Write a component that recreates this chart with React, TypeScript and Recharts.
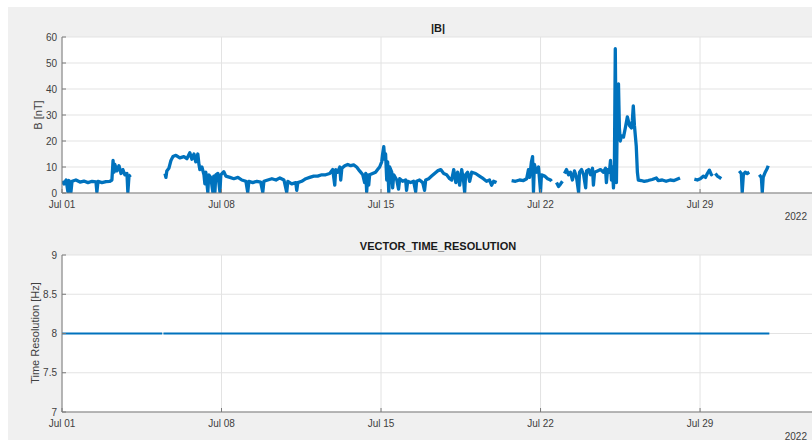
import { CartesianGrid, Line, LineChart, XAxis, YAxis } from "recharts"

// days since Jul 01 2022
const dayTicks = [0, 7, 14, 21, 28]
const dayLabels = ["Jul 01", "Jul 08", "Jul 15", "Jul 22", "Jul 29"]
const fieldTicks = [0, 10, 20, 30, 40, 50, 60]
const resTicks = [7, 7.5, 8, 8.5, 9]

// [day, |B| nT], null = data gap
const fieldSamples: Array<[number, number | null]> = [
  [0.0, 4.5], [0.09, 3.5], [0.18, 5], [0.26, 0.5], [0.31, 4.8], [0.39, 0.3], [0.44, 4.5], [0.61, 5],
  [0.79, 4.2], [0.96, 4.6], [1.14, 4], [1.32, 4.5], [1.49, 4.3], [1.53, 0.4], [1.58, 4.5], [1.75, 4],
  [1.93, 4.4], [2.1, 4.5], [2.19, 5], [2.24, 12.5], [2.28, 8], [2.32, 11], [2.41, 8.5], [2.5, 10.5],
  [2.59, 7.5], [2.67, 9], [2.76, 7], [2.85, 7.5], [2.89, 0.3], [2.94, 6.5], [3.02, 7],
  [3.5, null],
  [4.52, 7.5], [4.56, 6], [4.6, 8.5], [4.69, 9.5], [4.78, 12.5], [4.87, 14], [5.0, 14.5], [5.17, 13.5],
  [5.35, 14], [5.48, 13.2], [5.61, 15.5], [5.7, 13], [5.79, 15], [5.87, 12], [5.96, 15], [6.01, 11],
  [6.05, 9], [6.14, 10], [6.23, 7], [6.27, 3.5], [6.31, 8], [6.4, 0.2], [6.44, 7], [6.53, 6],
  [6.62, 0.3], [6.66, 6.5], [6.71, 0.3], [6.75, 7], [6.84, 7.5], [6.93, 0.5], [6.97, 7], [7.1, 8.2],
  [7.19, 6.5], [7.37, 6], [7.54, 5.5], [7.72, 6], [7.89, 5], [8.07, 4.5], [8.15, 0.3], [8.2, 4.5],
  [8.37, 4], [8.55, 4.5], [8.72, 4.2], [8.81, 0.3], [8.86, 4.5], [9.03, 5], [9.21, 5.5], [9.39, 5],
  [9.56, 5.8], [9.74, 5], [9.86, 0.3], [9.91, 4.5], [10.08, 3.5], [10.26, 4], [10.3, 1], [10.35, 4],
  [10.52, 4.5], [10.7, 5.5], [10.87, 6], [11.05, 6.5], [11.22, 6.5], [11.4, 7], [11.57, 7], [11.75, 7.5],
  [11.88, 9], [11.97, 3], [12.01, 9], [12.1, 8], [12.19, 10], [12.23, 5], [12.28, 9.5], [12.41, 10.5],
  [12.54, 11], [12.67, 10.5], [12.8, 10.8], [12.93, 10], [13.06, 8.5], [13.2, 7], [13.28, 4], [13.33, 7.5],
  [13.37, 0.5], [13.42, 7], [13.46, 3], [13.5, 7], [13.63, 7.5], [13.76, 8], [13.85, 9], [13.94, 10],
  [14.03, 12], [14.07, 15], [14.12, 17.8], [14.16, 13], [14.2, 15], [14.25, 5], [14.29, 12], [14.34, 0.3],
  [14.38, 10], [14.47, 8], [14.51, 2], [14.56, 7], [14.69, 5], [14.77, 1.5], [14.82, 5.5], [14.95, 4.5],
  [15.08, 5], [15.12, 1], [15.17, 4.5], [15.3, 4], [15.43, 4.5], [15.52, 0.5], [15.56, 4.5], [15.69, 5],
  [15.83, 4], [15.91, 1], [15.96, 5], [16.09, 5.5], [16.22, 6.5], [16.35, 7.5], [16.48, 8.5], [16.62, 9],
  [16.75, 7.5], [16.88, 7], [17.01, 5.5], [17.1, 5], [17.19, 9], [17.28, 4], [17.36, 8], [17.45, 3],
  [17.54, 9], [17.63, 4], [17.67, 0.3], [17.71, 7], [17.8, 8], [17.89, 4.5], [17.98, 8], [18.15, 7.5],
  [18.32, 6.5], [18.49, 5.5], [18.63, 4.5], [18.76, 5], [18.85, 3], [18.94, 4.5], [19.07, 4],
  [19.3, null],
  [19.73, 4.8], [19.9, 4.5], [20.08, 5], [20.25, 4.8], [20.39, 5.5], [20.47, 9], [20.52, 6], [20.6, 12],
  [20.65, 14], [20.69, 0.5], [20.73, 11], [20.82, 8], [20.91, 10], [21.0, 0.5], [21.04, 7], [21.18, 6.5],
  [21.31, 5.5], [21.44, 5], [21.48, 4.5],
  [21.55, null],
  [21.7, 4], [21.79, 2.5], [21.88, 3.5], [21.96, 4.5],
  [22.0, null],
  [22.05, 7.5], [22.14, 9], [22.23, 7], [22.31, 8], [22.4, 5], [22.49, 8.5], [22.58, 6], [22.67, 0.3],
  [22.71, 8], [22.8, 9], [22.89, 7], [22.98, 2], [23.02, 8.5], [23.11, 9], [23.19, 7], [23.28, 9.5],
  [23.32, 3], [23.37, 8], [23.5, 8.5], [23.63, 9], [23.76, 8], [23.85, 9.5], [23.89, 4], [23.94, 9],
  [24.02, 8], [24.07, 12.5], [24.11, 5], [24.15, 10], [24.2, 2], [24.24, 9], [24.28, 55.5], [24.33, 4],
  [24.37, 30], [24.42, 42], [24.46, 25], [24.5, 20], [24.55, 22], [24.64, 21.5], [24.72, 25], [24.81, 29.3],
  [24.9, 26], [24.99, 25], [25.03, 28], [25.07, 33.5], [25.12, 26], [25.16, 22], [25.2, 18], [25.25, 8],
  [25.29, 5], [25.42, 4.8], [25.55, 4.5], [25.72, 4.8], [25.9, 5.2], [26.08, 5.8], [26.16, 4.8], [26.34, 5],
  [26.51, 4.5], [26.69, 5], [26.86, 4.8], [27.04, 5.5], [27.12, 5.8],
  [27.3, null],
  [27.75, 5.3], [27.88, 5], [28.01, 5.5], [28.15, 6.5], [28.24, 6], [28.32, 7.5], [28.41, 8.8], [28.5, 7],
  [28.54, 7.5],
  [28.6, null],
  [28.67, 7.5], [28.76, 6.5], [28.85, 6], [28.93, 5.5],
  [29.2, null],
  [29.72, 8.5], [29.81, 7.5], [29.85, 0.3], [29.9, 7], [29.98, 8], [30.07, 7.5], [30.16, 8],
  [30.4, null],
  [30.6, 7], [30.69, 6], [30.73, 0.3], [30.77, 6], [30.86, 8], [30.95, 9.5], [30.99, 10.5],
]

// [day, time resolution Hz]
const resSamples: Array<[number, number | null]> = [
  [0, 8], [4.4, 8], [4.42, null], [4.45, 8], [31.04, 8],
]

const font = "'Liberation Sans', Arial, Helvetica, sans-serif"
const axisColor = "#7a7a7a"
const tickStyle = { fill: "#404040", fontSize: 10, fontFamily: font }

function dayLabel(value: number) {
  const i = dayTicks.indexOf(value)
  return i >= 0 ? dayLabels[i] : ""
}

type PanelProps = {
  top: number
  height: number
  data: Array<{ day: number; value: number | null }>
  yTicks: number[]
  yDomain: [number, number]
  strokeWidth: number
}

function Panel({ top, height, data, yTicks, yDomain, strokeWidth }: PanelProps) {
  return (
    <div style={{ position: "absolute", left: 0, top }}>
      <LineChart width={830} height={height} data={data} margin={{ top: 37, right: 16, bottom: 7, left: 0 }}>
        <CartesianGrid stroke="#e3e3e3" fill="#ffffff" />
        <XAxis
          dataKey="day"
          type="number"
          domain={[0, 33]}
          ticks={dayTicks}
          tickFormatter={dayLabel}
          interval={0}
          height={20}
          stroke={axisColor}
          tick={tickStyle}
          tickSize={-4}
          tickMargin={12}
          allowDataOverflow
        />
        <XAxis
          xAxisId="top"
          dataKey="day"
          orientation="top"
          type="number"
          domain={[0, 33]}
          ticks={dayTicks}
          tickFormatter={() => ""}
          interval={0}
          height={0}
          stroke={axisColor}
          tickSize={-4}
          allowDataOverflow
        />
        <YAxis
          type="number"
          domain={yDomain}
          ticks={yTicks}
          interval={0}
          width={62}
          stroke={axisColor}
          tick={tickStyle}
          tickSize={-4}
          tickMargin={9}
          allowDataOverflow
        />
        <YAxis
          yAxisId="right"
          orientation="right"
          type="number"
          domain={yDomain}
          ticks={yTicks}
          interval={0}
          width={0}
          stroke={axisColor}
          tickFormatter={() => ""}
          tickSize={-4}
          allowDataOverflow
        />
        <Line
          dataKey="value"
          type="linear"
          stroke="#0072BD"
          strokeWidth={strokeWidth}
          strokeLinejoin="round"
          dot={false}
          activeDot={false}
          isAnimationActive={false}
        />
      </LineChart>
    </div>
  )
}

const textBase = { position: "absolute" as const, fontFamily: font, whiteSpace: "nowrap" as const }

export default function App() {
  const fieldData = fieldSamples.map(([day, value]) => ({ day, value }))
  const resData = resSamples.map(([day, value]) => ({ day, value }))

  return (
    <div style={{ position: "absolute", left: 0, top: 0, width: 812, height: 443, overflow: "hidden", background: "#ffffff" }}>
      <div style={{ position: "absolute", left: 8, top: 7, width: 900, height: 433, background: "#f0f0f0" }} />
      <Panel top={0} height={220} data={fieldData} yTicks={fieldTicks} yDomain={[0, 60]} strokeWidth={3.3} />
      <Panel top={218} height={221} data={resData} yTicks={resTicks} yDomain={[7, 9]} strokeWidth={2.2} />

      <div style={{ ...textBase, left: 438, top: 28, transform: "translate(-50%, -50%)", fontSize: 11, fontWeight: "bold", color: "#1a1a1a" }}>
        |B|
      </div>
      <div style={{ ...textBase, left: 438, top: 246, transform: "translate(-50%, -50%)", fontSize: 11, fontWeight: "bold", color: "#1a1a1a" }}>
        VECTOR_TIME_RESOLUTION
      </div>
      <div style={{ ...textBase, left: 38, top: 115, transform: "translate(-50%, -50%) rotate(-90deg)", fontSize: 11, color: "#404040" }}>
        B [nT]
      </div>
      <div style={{ ...textBase, left: 35, top: 333, transform: "translate(-50%, -50%) rotate(-90deg)", fontSize: 11, color: "#404040" }}>
        Time Resolution [Hz]
      </div>
      <div style={{ ...textBase, right: 5, top: 211, fontSize: 10, lineHeight: "12px", color: "#404040" }}>
        2022
      </div>
      <div style={{ ...textBase, right: 5, top: 431, fontSize: 10, lineHeight: "12px", color: "#404040" }}>
        2022
      </div>
    </div>
  )
}
